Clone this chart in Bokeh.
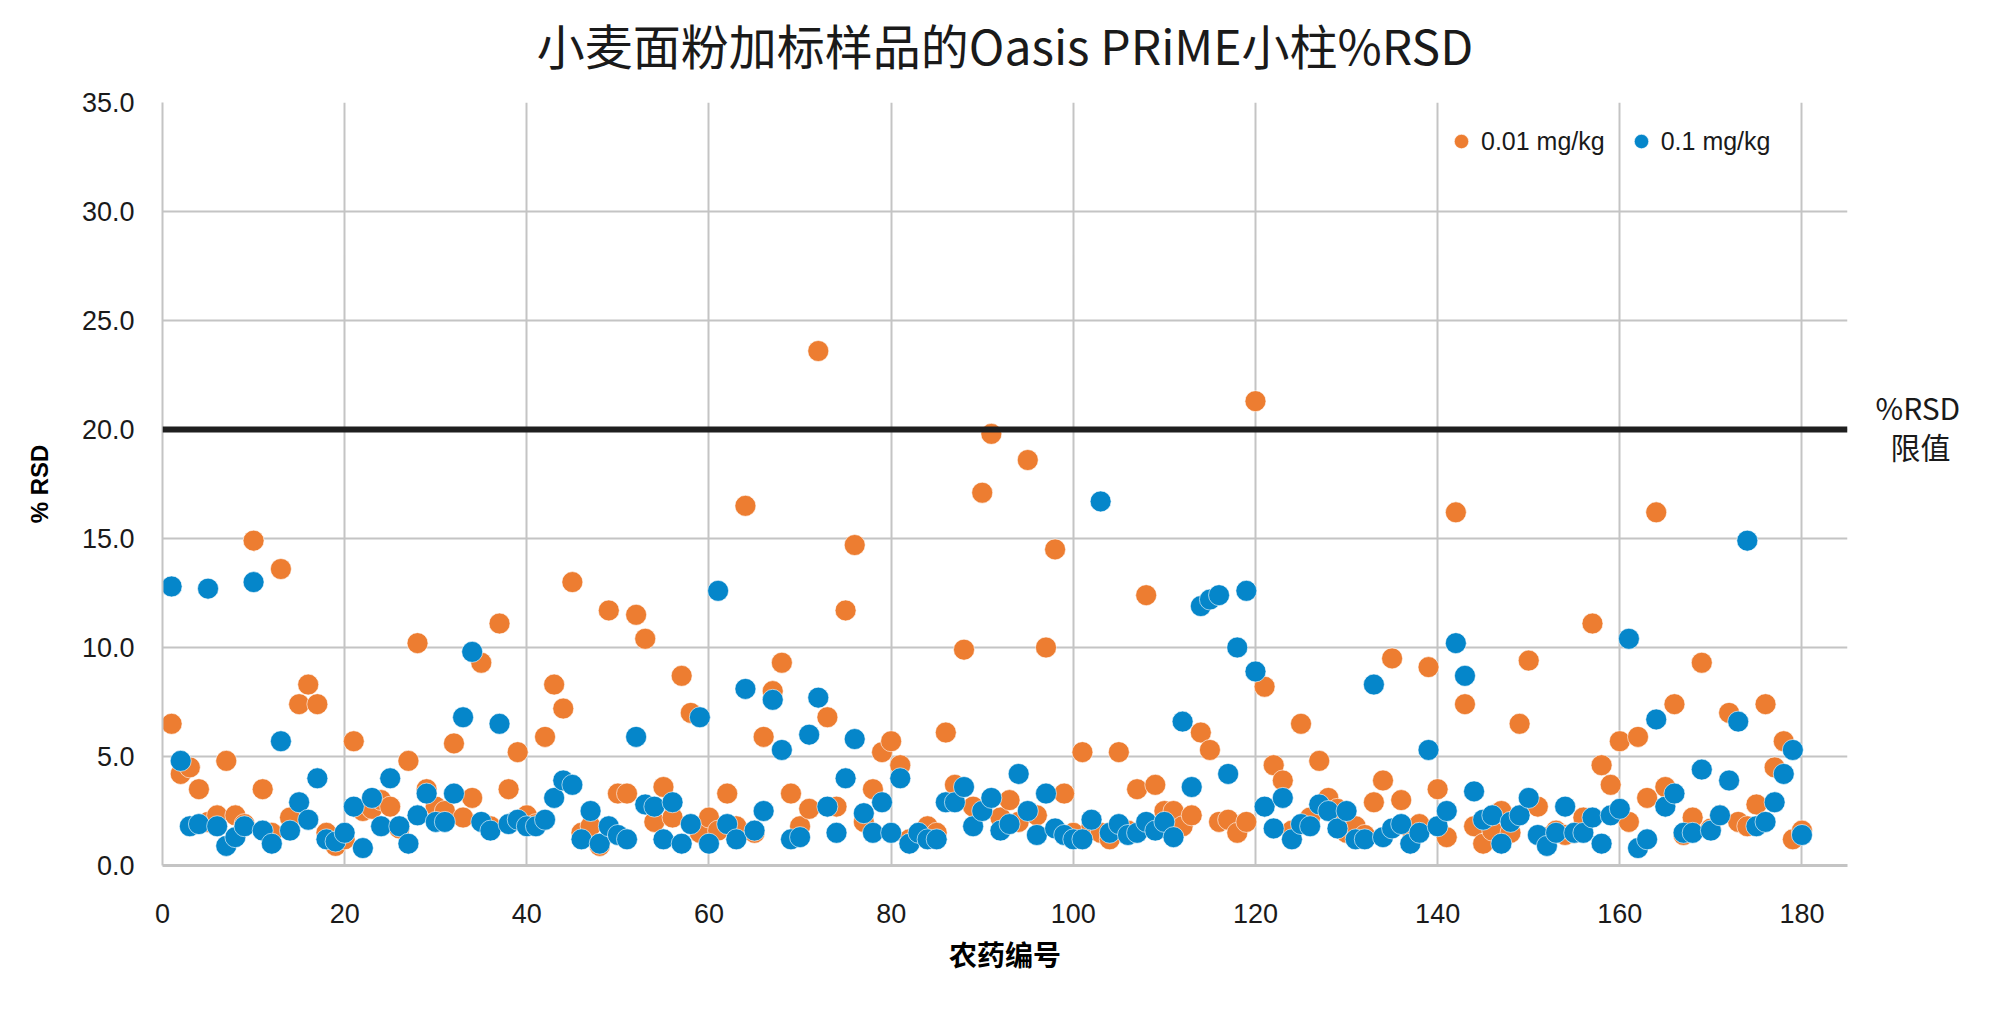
from bokeh.plotting import figure
from bokeh.models import (ColumnDataSource, Span, Legend, LegendItem, LinearAxis,
                          FixedTicker, NumeralTickFormatter, Range1d, Title)
from bokeh.embed import file_html
from bokeh.resources import INLINE

# ---------------- data ----------------
pesticide_ids = list(range(1, 181))

rsd_001 = [  # 0.01 mg/kg
    6.5, 4.2, 4.5, 3.5, 2.0, 2.3, 4.8, 2.3, 1.9, 14.9,
    3.5, 1.5, 13.6, 2.2, 7.4, 8.3, 7.4, 1.5, 0.9, 1.2,
    5.7, 2.5, 2.6, 3.0, 2.7, 1.7, 4.8, 10.2, 3.5, 2.7,
    2.5, 5.6, 2.2, 3.1, 9.3, 1.8, 11.1, 3.5, 5.2, 2.3,
    1.9, 5.9, 8.3, 7.2, 13.0, 1.5, 1.8, 0.9, 11.7, 3.3,
    3.3, 11.5, 10.4, 2.0, 3.6, 2.2, 8.7, 7.0, 1.5, 2.2,
    1.6, 3.3, 1.8, 16.5, 1.5, 5.9, 8.0, 9.3, 3.3, 1.8,
    2.6, 23.6, 6.8, 2.7, 11.7, 14.7, 2.0, 3.5, 5.2, 5.7,
    4.6, 1.2, 1.4, 1.8, 1.5, 6.1, 3.7, 9.9, 2.7, 17.1,
    19.8, 2.2, 3.0, 2.0, 18.6, 2.3, 10.0, 14.5, 3.3, 1.5,
    5.2, 1.8, 1.5, 1.2, 5.2, 1.6, 3.5, 12.4, 3.7, 2.5,
    2.5, 1.8, 2.3, 6.1, 5.3, 2.0, 2.1, 1.5, 2.0, 21.3,
    8.2, 4.6, 3.9, 1.6, 6.5, 2.2, 4.8, 3.1, 2.6, 1.5,
    1.8, 1.4, 2.9, 3.9, 9.5, 3.0, 1.7, 1.9, 9.1, 3.5,
    1.3, 16.2, 7.4, 1.8, 1.0, 1.6, 2.5, 1.5, 6.5, 9.4,
    2.7, 1.3, 1.6, 1.4, 1.5, 2.2, 11.1, 4.6, 3.7, 5.7,
    2.0, 5.9, 3.1, 16.2, 3.6, 7.4, 1.4, 2.2, 9.3, 1.7,
    2.3, 7.0, 2.0, 1.8, 2.8, 7.4, 4.5, 5.7, 1.2, 1.6,
]

rsd_01 = [  # 0.1 mg/kg
    12.8, 4.8, 1.8, 1.9, 12.7, 1.8, 0.9, 1.3, 1.8, 13.0,
    1.6, 1.0, 5.7, 1.6, 2.9, 2.1, 4.0, 1.2, 1.1, 1.5,
    2.7, 0.8, 3.1, 1.8, 4.0, 1.8, 1.0, 2.3, 3.3, 2.0,
    2.0, 3.3, 6.8, 9.8, 2.0, 1.6, 6.5, 1.9, 2.1, 1.8,
    1.8, 2.1, 3.1, 3.9, 3.7, 1.2, 2.5, 1.0, 1.8, 1.4,
    1.2, 5.9, 2.8, 2.7, 1.2, 2.9, 1.0, 1.9, 6.8, 1.0,
    12.6, 1.9, 1.2, 8.1, 1.6, 2.5, 7.6, 5.3, 1.2, 1.3,
    6.0, 7.7, 2.7, 1.5, 4.0, 5.8, 2.4, 1.5, 2.9, 1.5,
    4.0, 1.0, 1.5, 1.2, 1.2, 2.9, 2.9, 3.6, 1.8, 2.5,
    3.1, 1.6, 1.9, 4.2, 2.5, 1.4, 3.3, 1.7, 1.4, 1.2,
    1.2, 2.1, 16.7, 1.5, 1.9, 1.4, 1.5, 2.0, 1.6, 2.0,
    1.3, 6.6, 3.6, 11.9, 12.2, 12.4, 4.2, 10.0, 12.6, 8.9,
    2.7, 1.7, 3.1, 1.2, 1.9, 1.8, 2.8, 2.5, 1.7, 2.5,
    1.2, 1.2, 8.3, 1.3, 1.7, 1.9, 1.0, 1.5, 5.3, 1.8,
    2.5, 10.2, 8.7, 3.4, 2.1, 2.3, 1.0, 2.0, 2.3, 3.1,
    1.4, 0.9, 1.5, 2.7, 1.5, 1.5, 2.2, 1.0, 2.3, 2.6,
    10.4, 0.8, 1.2, 6.7, 2.7, 3.3, 1.5, 1.5, 4.4, 1.6,
    2.3, 3.9, 6.6, 14.9, 1.8, 2.0, 2.9, 4.2, 5.3, 1.4,
]

series_labels = ["0.01 mg/kg", "0.1 mg/kg"]
rsd_limit = 20.0
x_ticks = [0, 20, 40, 60, 80, 100, 120, 140, 160, 180]
y_ticks = [0, 5, 10, 15, 20, 25, 30, 35]

title_text = "小麦面粉加标样品的Oasis PRiME小柱%RSD"
x_title = "农药编号"
y_title = "% RSD"
limit_label_lines = ["%RSD", "\u2002限值"]

ORANGE = "#ED7D31"
BLUE = "#0586CA"
GRID = "#C4C4C4"
LATIN = "Liberation Sans"
CJK = "Noto Sans CJK SC"

# ---------------- figure ----------------
W, H = 1984, 995
p = figure(width=W, height=H, output_backend="svg", toolbar_location=None,
           title=None,
           x_range=Range1d(0, 185), y_range=Range1d(0, 35),
           min_border_left=162, min_border_right=137,
           min_border_top=102, min_border_bottom=130)
p.outline_line_color = None
p.background_fill_color = "white"

# spacer (nearest the frame) then the real title above it
p.add_layout(Title(text=" ", text_font_size="2px", standoff=19), "above")
p.add_layout(Title(text=title_text, align="center", vertical_align="middle",
                   text_font=CJK, text_font_size="48px",
                   text_font_style="normal", text_color="#1a1a1a",
                   standoff=0), "above")

# axes
p.xaxis.ticker = FixedTicker(ticks=x_ticks)
p.yaxis.ticker = FixedTicker(ticks=y_ticks)
p.yaxis.formatter = NumeralTickFormatter(format="0.0")
for ax in (p.xaxis[0], p.yaxis[0]):
    ax.major_tick_line_color = None
    ax.minor_tick_line_color = None
    ax.major_label_text_font = LATIN
    ax.major_label_text_font_size = "27px"
    ax.major_label_text_color = "#1a1a1a"
    ax.axis_label_text_font_style = "bold"
    ax.axis_label_text_color = "#000000"
    ax.axis_line_color = GRID
p.xaxis.axis_line_width = 3
p.yaxis.axis_line_width = 2
p.xaxis.major_label_standoff = 32
p.yaxis.major_label_standoff = 22
p.xaxis.axis_label = x_title
p.xaxis.axis_label_text_font = CJK
p.xaxis.axis_label_text_font_size = "28px"
p.xaxis.axis_label_standoff = 8
p.yaxis.axis_label = y_title
p.yaxis.axis_label_text_font = LATIN
p.yaxis.axis_label_text_font_size = "24px"
p.yaxis.axis_label_standoff = 26

p.xgrid.ticker = FixedTicker(ticks=x_ticks)
p.ygrid.ticker = FixedTicker(ticks=y_ticks)
for g in (p.xgrid[0], p.ygrid[0]):
    g.grid_line_color = GRID
    g.grid_line_width = 2

# limit line
p.add_layout(Span(location=rsd_limit, dimension="width",
                  line_color="#1f1f1f", line_width=6))

# scatter series
src_a = ColumnDataSource(dict(x=pesticide_ids, y=rsd_001))
src_b = ColumnDataSource(dict(x=pesticide_ids, y=rsd_01))
ra = p.scatter("x", "y", source=src_a, size=21, fill_color=ORANGE,
               line_color="white", line_width=1, line_alpha=0.6)
rb = p.scatter("x", "y", source=src_b, size=21, fill_color=BLUE,
               line_color="white", line_width=1, line_alpha=0.6)

legend = Legend(items=[LegendItem(label=series_labels[0], renderers=[ra]),
                       LegendItem(label=series_labels[1], renderers=[rb])],
                orientation="horizontal", location=(1281, 706),
                glyph_width=36, glyph_height=36, label_standoff=2,
                spacing=18, padding=0, margin=0,
                border_line_color=None, background_fill_alpha=0,
                label_text_font=LATIN, label_text_font_size="25px",
                label_text_color="#1a1a1a")
p.add_layout(legend)

# limit label at right side (axis label of an invisible right axis);
# trailing empty lines lift the two visible lines up to the limit line
limit_label = "\n".join(limit_label_lines + ["", "", ""])
lim_axis = LinearAxis(ticker=FixedTicker(ticks=[]), axis_label=limit_label,
                      axis_label_orientation="horizontal",
                      axis_line_color=None, major_tick_line_color=None,
                      minor_tick_line_color=None,
                      major_label_text_font_size="0px", major_label_standoff=0,
                      axis_label_text_font=CJK, axis_label_text_font_size="30px",
                      axis_label_text_font_style="normal",
                      axis_label_text_color="#1a1a1a",
                      axis_label_text_line_height=0.87,
                      axis_label_standoff=28)
p.add_layout(lim_axis, "right")

open("out.html", "w").write(file_html(p, INLINE))
